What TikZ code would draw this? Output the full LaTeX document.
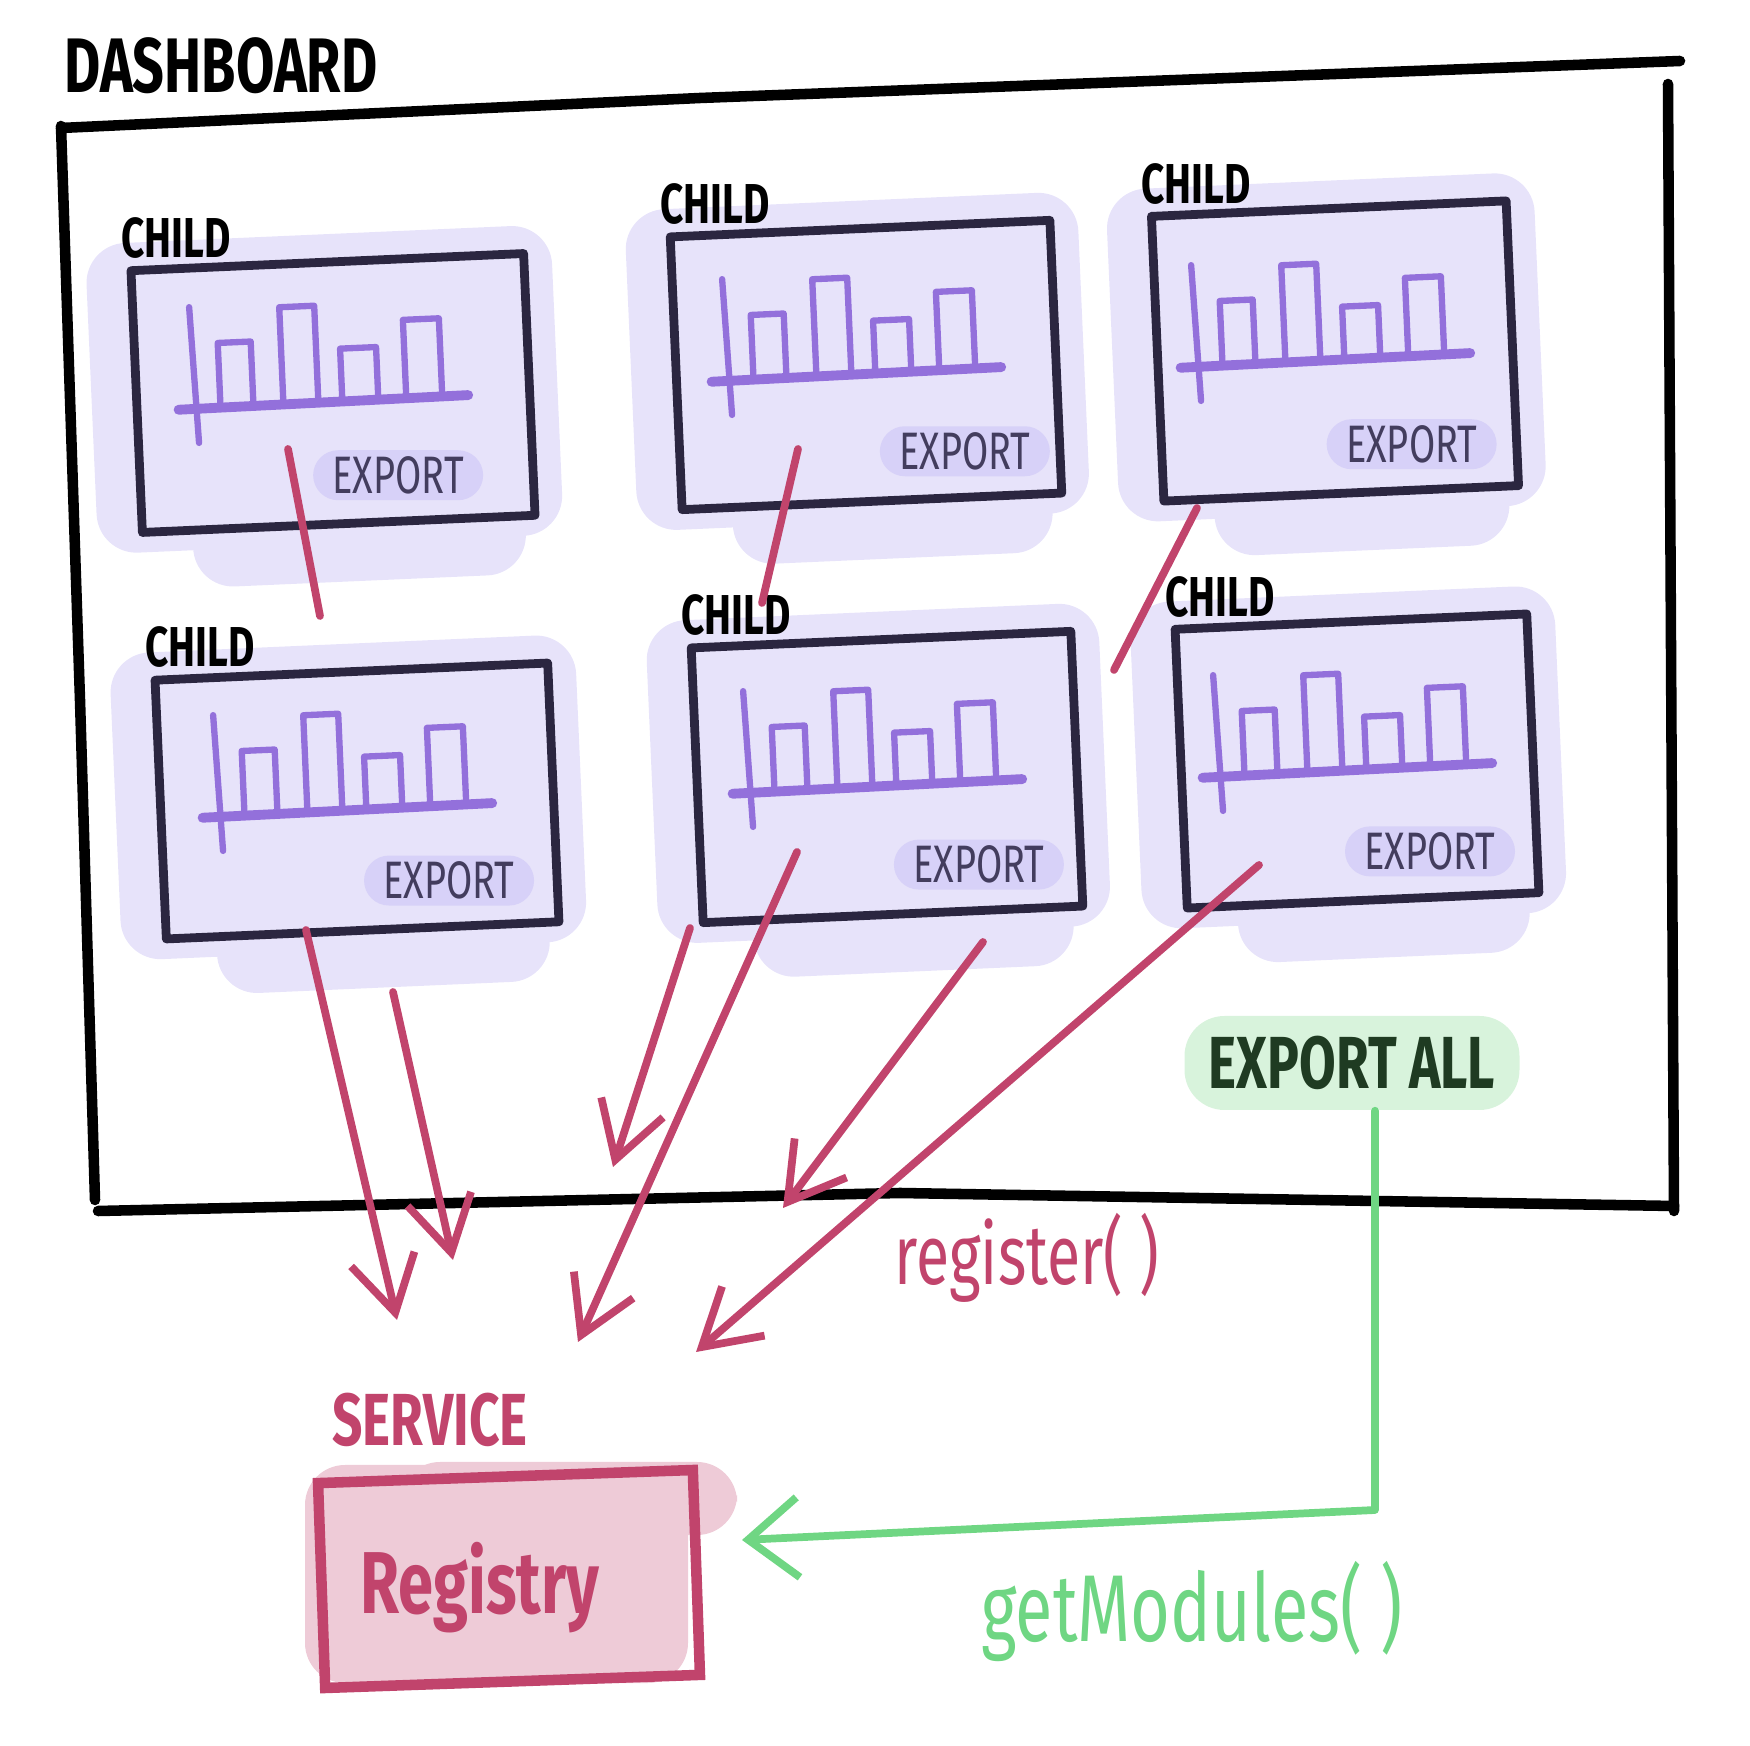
\documentclass[tikz,border=0pt]{standalone}
\usepackage{fontspec}
\setmainfont{Fira Sans}[FakeStretch=0.72]
\usetikzlibrary{arrows.meta}
\definecolor{ink}{HTML}{2B2640}
\definecolor{lav}{HTML}{E7E3FA}
\definecolor{pillc}{HTML}{D7D1F8}
\definecolor{barc}{HTML}{9370DB}
\definecolor{exptxt}{HTML}{433D5E}
\definecolor{regred}{HTML}{C1446C}
\definecolor{regpink}{HTML}{EECBD7}
\definecolor{grn}{HTML}{6FD683}
\definecolor{grnfill}{HTML}{D8F3DC}
\definecolor{grntxt}{HTML}{1F3B22}
\tikzset{
  frame/.style={draw=ink,line width=2.5pt,line cap=round,line join=round},
  bar/.style={draw=barc,line width=1.8pt,line cap=round,line join=round},
  pill/.style={fill=pillc,rounded corners=2.5mm,minimum width=17mm,minimum height=5mm,inner sep=0pt,text=exptxt,font=\fontsize{15}{15}\selectfont},
  lbl/.style={inner sep=0pt,font=\bfseries\fontsize{16}{16}\selectfont},
  redline/.style={draw=regred,line width=2.2pt,line cap=round},
  redarrow/.style={redline,-{Straight Barb[length=5.5mm,width=6.5mm]}},
  grnarrow/.style={draw=grn,line width=2.2pt,line cap=round,line join=round,-{Straight Barb[length=5mm,width=8mm]}},
}
% child panel: name, centre, width, height, export offset
\newcommand\childbox[5]{%
\begin{scope}[shift={#2},rotate=2.5]
\fill[lav,rounded corners=4mm] (-#3/2-45,-#4/2-28) rectangle (#3/2+28,#4/2+20);
\fill[lav,rounded corners=4mm] (-#3/2+50,#4/2-40) rectangle (#3/2-10,#4/2+58);
\coordinate (#1) at (0,0);
\draw[frame] (-#3/2,-#4/2) rectangle (#3/2,#4/2);
\draw[bar] (-140,-92) -- (-136,44);
\draw[bar,line width=2.8pt] (-155,10) -- (135,8);
\foreach \a/\b/\t in {-113/-80/-55,-50/-15/-88,9/45/-44,73/109/-70}
  \draw[bar] (\a,9) -- (\a,\t) -- (\b,\t) -- (\b,9);
\node[pill] (#1x) at (#3/2-#5,#4/2-46) {EXPORT};
\node[lbl,anchor=south west] (#1l) at (-#3/2-10,-#4/2-12) {CHILD};
\end{scope}}
\begin{document}
\begin{tikzpicture}[x=0.1mm,y=-0.1mm]
\useasboundingbox (0,0) rectangle (1750,1746);
% dashboard
\node[inner sep=0pt,font=\bfseries\fontsize{22}{22}\selectfont] (dboard) at (221,66) {DASHBOARD};
\draw[line width=3pt,line cap=round] (61,128) -- (700,98) -- (1680,61);
\draw[line width=3pt,line cap=round] (61,126) -- (80,700) -- (95,1200);
\draw[line width=3pt,line cap=round] (98,1211) -- (900,1193) -- (1674,1206);
\draw[line width=3pt,line cap=round] (1668,84) -- (1674,1211);
% children
\childbox{c1}{(333,393)}{393}{262}{135}
\childbox{c2}{(866,365)}{380}{273}{95}
\childbox{c3}{(1335,351)}{355}{285}{105}
\childbox{c4}{(357,801)}{393}{259}{108}
\childbox{c5}{(887,777)}{380}{275}{102}
\childbox{c6}{(1357,761)}{352}{279}{107}
% register calls
\coordinate (u1) at (288,449); \coordinate (u1e) at (320,616);
\coordinate (u2) at (798,449); \coordinate (u2e) at (762,603);
\coordinate (u3) at (1197,508); \coordinate (u3e) at (1114,670);
\draw[redline] (u1) -- (u1e);
\draw[redline] (u2) -- (u2e);
\draw[redline] (u3) -- (u3e);
\coordinate (a1) at (306,930); \coordinate (a1e) at (397,1320);
\coordinate (a2) at (393,992); \coordinate (a2e) at (453,1260);
\coordinate (a3) at (690,928); \coordinate (a3e) at (613,1167);
\coordinate (a4) at (797,852); \coordinate (a4e) at (578,1342);
\coordinate (a5) at (983,942); \coordinate (a5e) at (783,1208);
\coordinate (a6) at (1259,865); \coordinate (a6e) at (696,1352);
\foreach \i in {1,...,6} \draw[redarrow] (a\i) -- (a\i e);
\node[inner sep=0pt,text=regred,font=\fontsize{24}{24}\selectfont] (regcall) at (1027,1258) {register( )};
% service
\node[inner sep=0pt,text=regred,font=\bfseries\fontsize{21}{21}\selectfont] (svc) at (430,1420) {SERVICE};
\fill[regpink,rounded corners=4mm] (305,1465) rectangle (688,1683);
\fill[regpink,rounded corners=4mm] (400,1462) rectangle (737,1535);
\node[draw=regred,line width=3pt,rotate=2,minimum width=37.5mm,minimum height=20.5mm] (reg) at (509,1579) {};
\node[inner sep=0pt,text=regred,font=\bfseries\fontsize{25}{25}\selectfont] (regtxt) at (480,1588) {Registry};
% export all
\node[fill=grnfill,rounded corners=4mm,minimum width=33.5mm,minimum height=9.4mm,text=grntxt,font=\bfseries\fontsize{21}{21}\selectfont] (ea) at (1352,1063) {EXPORT ALL};
\coordinate (gc) at (1375,1510);
\coordinate (gend) at (742,1540);
\draw[grnarrow] (ea.south -| gc) -- (gc) -- (gend);
\node[inner sep=0pt,text=grn,font=\fontsize{27}{27}\selectfont] (gm) at (1192,1612) {getModules( )};
\end{tikzpicture}
\end{document}
